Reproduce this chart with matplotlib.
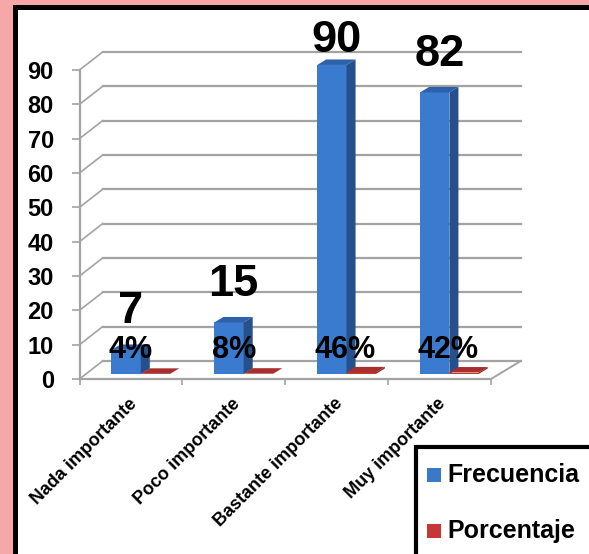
import numpy as np
import matplotlib.pyplot as plt
from matplotlib.patches import Polygon, Rectangle

plt.rcParams['font.family'] = ['Liberation Sans', 'DejaVu Sans']
plt.rcParams['font.weight'] = 'bold'

# datos
categorias = ['Nada importante', 'Poco importante', 'Bastante importante', 'Muy importante']
frecuencia = [7, 15, 90, 82]
porcentaje = [0.04, 0.08, 0.46, 0.42]
etiquetas_pct = ['4%', '8%', '46%', '42%']
y_ticks = [0, 10, 20, 30, 40, 50, 60, 70, 80, 90]
series = ['Frecuencia', 'Porcentaje']

W, H = 589, 554
fig = plt.figure(figsize=(W / 100, H / 100), dpi=100, facecolor='#f6a8a8')

# panel blanco con borde negro (cortado a la derecha y abajo)
fig.add_artist(Rectangle((14.5 / W, -0.2), 1.2, 1.2 - 7 / H,
                         transform=fig.transFigure, facecolor='white',
                         edgecolor='black', lw=3.6, zorder=0))

ax = fig.add_axes([79.5 / W, 1 - 379 / H, 411.5 / W, 309 / H])
ax.set_xlim(-0.5, 3.5)
ax.set_ylim(0, 90)
ax.patch.set_alpha(0)

DX, DX_R, DY = 0.225, 0.29, 5.25      # profundidad de la pared
grid_c = '#a3a3a3'

for t in y_ticks:
    ax.plot([-0.5 + DX, 3.5 + DX_R], [t + DY, t + DY], color=grid_c, lw=1.6,
            clip_on=False, zorder=1)
    ax.plot([-0.5, -0.5 + DX], [t, t + DY], color=grid_c, lw=1.2,
            clip_on=False, zorder=1)
ax.plot([3.5, 3.5 + DX_R], [0, DY], color=grid_c, lw=1.4, clip_on=False, zorder=1)

for s in ['top', 'right']:
    ax.spines[s].set_visible(False)
for s in ['left', 'bottom']:
    ax.spines[s].set_color(grid_c)
    ax.spines[s].set_linewidth(1.6)

ax.set_yticks(y_ticks)
ax.set_yticklabels([str(t) for t in y_ticks], fontsize=17, fontweight='bold')
ax.tick_params(axis='y', length=5.5, color=grid_c, width=1.2, pad=13)
ax.set_xticks(np.arange(-0.5, 4, 1.0))
ax.set_xticklabels([])
ax.tick_params(axis='x', length=4.5, color=grid_c, width=1.2)

# barras 3D
z0 = 0.28
bw = 0.285
bdx, bdy = 0.088, 1.6


def barra3d(xc, h, front, top, side):
    xl = xc - bw / 2 + z0 * DX
    yb = z0 * DY
    ax.bar(xl + bw / 2, h, bw, bottom=yb, color=front, zorder=3, clip_on=False)
    ax.add_patch(Polygon([(xl, yb + h), (xl + bw, yb + h),
                          (xl + bw + bdx, yb + h + bdy), (xl + bdx, yb + h + bdy)],
                         closed=True, facecolor=top, edgecolor='none',
                         zorder=3, clip_on=False))
    ax.add_patch(Polygon([(xl + bw, yb), (xl + bw + bdx, yb + bdy),
                          (xl + bw + bdx, yb + h + bdy), (xl + bw, yb + h)],
                         closed=True, facecolor=side, edgecolor='none',
                         zorder=3, clip_on=False))
    return xl


x = np.arange(len(categorias))
for i in x:
    xl = barra3d(i - 0.11, frecuencia[i], '#3a7bd0', '#2d62ab', '#26508c')
    barra3d(i + 0.175, porcentaje[i], '#c0392b', '#a92f2f', '#8e2323')
    top_y = frecuencia[i] + z0 * DY
    ax.text(xl + (bw + bdx) / 2, min(top_y + 11.1, 98.5), str(frecuencia[i]),
            ha='center', va='center', fontsize=32.5, fontweight='bold',
            zorder=5, clip_on=False)
    ax.text(i - 0.215, 8.5, etiquetas_pct[i], ha='left', va='center',
            fontsize=22, fontweight='bold', zorder=5)
    ax.text(i - 0.025, -4.7, categorias[i], rotation=45, ha='right', va='top',
            rotation_mode='anchor', fontsize=13, fontweight='bold')

# leyenda
fig.add_artist(Rectangle((416 / W, -0.2), 1, 0.2 + 1 - 446.5 / H,
                         transform=fig.transFigure, facecolor='white',
                         edgecolor='black', lw=3, zorder=4))
colores = ['#3a78c8', '#c83737']
for k, (nombre, c) in enumerate(zip(series, colores)):
    yb = 482 + k * 56
    fig.add_artist(Rectangle((427 / W, 1 - yb / H), 14 / W, 14 / H,
                             transform=fig.transFigure, facecolor=c,
                             edgecolor='none', zorder=5))
    fig.text(447 / W, 1 - yb / H, nombre, ha='left', va='baseline',
             fontsize=18, fontweight='bold', zorder=5)

fig.savefig('out.png', dpi=100, facecolor=fig.get_facecolor())
